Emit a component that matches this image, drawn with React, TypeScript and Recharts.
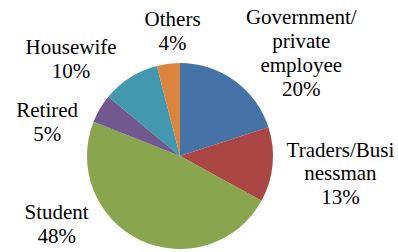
import * as React from 'react'
import { PieChart, Pie, Cell } from 'recharts'

const categories = [
  'Government/private employee',
  'Traders/Businessman',
  'Student',
  'Retired',
  'Housewife',
  'Others',
]
const shares = [20, 13, 48, 5, 10, 4]
const labelLines = [
  ['Government/', 'private', 'employee'],
  ['Traders/Busi', 'nessman'],
  ['Student'],
  ['Retired'],
  ['Housewife'],
  ['Others'],
]
const colors = ['#4572A7', '#AA4643', '#89A54E', '#71588F', '#4198AF', '#DB843D']

// label placement tweaks (px) relative to a point just outside each slice
const labelNudge: [number, number][] = [
  [49, -32],
  [38, -11],
  [-71, -48],
  [-27, 24],
  [-43, 2],
  [8, -8],
]

const RAD = Math.PI / 180
const LINE = 23.8

const data = categories.map((name, i) => ({ name, value: shares[i] }))

function renderLabel(props: any) {
  const { cx, cy, midAngle, outerRadius, index, value } = props
  const r = outerRadius + 30
  const x = cx + r * Math.cos(-midAngle * RAD) + labelNudge[index][0]
  const y = cy + r * Math.sin(-midAngle * RAD) + labelNudge[index][1]
  const lines = [...labelLines[index], `${value}%`]
  return (
    <g>
      {lines.map((t, k) => (
        <text
          key={k}
          x={x}
          y={y + k * LINE}
          textAnchor="middle"
          fill="#000"
          style={{ fontFamily: 'Liberation Serif', fontSize: 21 }}
        >
          {t}
        </text>
      ))}
    </g>
  )
}

export default function App() {
  return (
    <div style={{ position: 'absolute', left: 0, top: 0, background: '#fff' }}>
      <PieChart width={398} height={252} margin={{ top: 0, right: 0, bottom: 0, left: 0 }}>
        <Pie
          data={data}
          dataKey="value"
          nameKey="name"
          cx={180}
          cy={156}
          outerRadius={93}
          startAngle={90}
          endAngle={-270}
          stroke="none"
          label={renderLabel}
          labelLine={false}
          isAnimationActive={false}
        >
          {data.map((d, i) => (
            <Cell key={d.name} fill={colors[i]} />
          ))}
        </Pie>
      </PieChart>
    </div>
  )
}
